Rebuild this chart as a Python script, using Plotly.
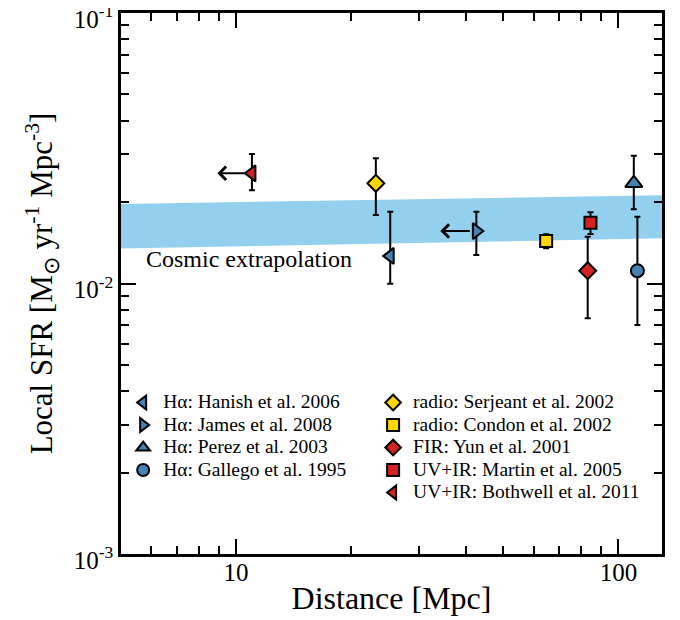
import numpy as np
import plotly.graph_objects as go

# ---------------- data ----------------
names = [
    "Hα: Hanish et al. 2006",
    "Hα: James et al. 2008",
    "Hα: Perez et al. 2003",
    "Hα: Gallego et al. 1995",
    "radio: Serjeant et al. 2002",
    "radio: Condon et al. 2002",
    "FIR: Yun et al. 2001",
    "UV+IR: Martin et al. 2005",
    "UV+IR: Bothwell et al. 2011",
]
distance = [25.3, 42.5, 109.7, 112.1, 23.2, 64.7, 83.1, 84.5, 11.0]
sfr      = [0.01264, 0.01563, 0.0235, 0.01115, 0.02347, 0.01435, 0.01115, 0.01678, 0.02555]
sfr_hi   = [0.01842, 0.01842, 0.0297, 0.01766, 0.02904, 0.0152, 0.0149, 0.01833, 0.0301]
sfr_lo   = [0.00997, 0.01274, 0.0188, 0.00702, 0.0179, 0.01349, 0.00744, 0.01524, 0.0221]
symbols  = ["triangle-left", "triangle-right", "triangle-up", "circle",
            "diamond", "square", "diamond", "square", "triangle-left"]
colors   = ["#4682B4", "#4682B4", "#4682B4", "#4682B4",
            "#FFD700", "#FFD700", "#D42222", "#D42222", "#D42222"]
sizes    = [14, 14, 15, 13, 13, 12, 13, 12, 14]
legend_group = ["legend", "legend", "legend", "legend",
                "legend2", "legend2", "legend2", "legend2", "legend2"]

# upper-limit arrows (index of point, distance of arrow tip)
arrow_idx = [8, 1]
arrow_to = [8.93, 34.2]

# cosmic extrapolation band
band_x = [5, 130]
band_low = [0.01347, 0.01469]
band_high = [0.01968, 0.0212]
band_label = "Cosmic extrapolation"

x_ticks = [10, 100]
x_ticktext = ["10", "100"]
y_ticks = [0.001, 0.01, 0.1]
y_ticktext = ["10<sup>-3</sup>", "10<sup>-2</sup>", "10<sup>-1</sup>"]

FONT = "Liberation Serif, Times New Roman, serif"

fig = go.Figure()

# band
fig.add_trace(go.Scatter(x=band_x, y=band_low, mode="lines", line=dict(width=0),
                         showlegend=False, hoverinfo="skip"))
fig.add_trace(go.Scatter(x=band_x, y=band_high, mode="lines", line=dict(width=0),
                         fill="tonexty", fillcolor="#93d0ed",
                         showlegend=False, hoverinfo="skip"))

for i in range(len(names)):
    fig.add_trace(go.Scatter(
        x=[distance[i]], y=[sfr[i]], mode="markers",
        name='<span style="font-size:19.5px">' + names[i] + "</span>",
        legend=legend_group[i],
        marker=dict(symbol=symbols[i], color=colors[i], size=sizes[i],
                    line=dict(color="black", width=2)),
        error_y=dict(type="data", symmetric=False,
                     array=[sfr_hi[i] - sfr[i]], arrayminus=[sfr[i] - sfr_lo[i]],
                     color="black", thickness=2, width=3),
    ))

for k, i in enumerate(arrow_idx):
    fig.add_annotation(x=np.log10(arrow_to[k]), y=np.log10(sfr[i]),
                       ax=np.log10(distance[i]), ay=np.log10(sfr[i]),
                       xref="x", yref="y", axref="x", ayref="y",
                       text="", showarrow=True, arrowhead=4, arrowsize=1.3,
                       arrowwidth=2, arrowcolor="black", startstandoff=5)

fig.add_annotation(x=np.log10(5.75), y=np.log10(0.01235), xref="x", yref="y",
                   text=band_label, showarrow=False, xanchor="left",
                   font=dict(family=FONT, size=24, color="black"))

axis_common = dict(
    type="log", showline=True, linewidth=2.5, linecolor="black", mirror="ticks",
    ticks="inside", ticklen=15, tickwidth=2, tickcolor="black",
    showgrid=False, zeroline=False, automargin=False,
    minor=dict(ticks="inside", ticklen=8, tickwidth=2, tickcolor="black",
               dtick="D1", showgrid=False),
    tickfont=dict(family=FONT, size=25, color="black"),
)

fig.update_xaxes(**axis_common, range=[np.log10(5), np.log10(130)],
                 tickmode="array", tickvals=x_ticks, ticktext=x_ticktext,
                 ticklabelstandoff=-6,
                 title=dict(text="Distance [Mpc]", font=dict(family=FONT, size=32, color="black"),
                            standoff=2))
fig.update_yaxes(**axis_common, range=[-3.0002, -0.9998],
                 tickmode="array", tickvals=y_ticks, ticktext=y_ticktext,
                 ticklabeloverflow="allow", ticklabelshift=6,
                 title=dict(text="Local SFR [M<sub>⊙</sub> yr<sup>-1</sup> Mpc<sup>-3</sup>]",
                            font=dict(family=FONT, size=31, color="black"), standoff=12))

legend_common = dict(font=dict(family=FONT, size=15, color="black"),
                     bgcolor="rgba(0,0,0,0)", itemsizing="constant",
                     traceorder="normal",
                     tracegroupgap=0, yanchor="top", xanchor="left")
fig.update_layout(
    width=672, height=612,
    margin=dict(l=113, r=18, t=5, b=66),
    paper_bgcolor="white", plot_bgcolor="white",
    legend=dict(**legend_common, x=0.004, y=0.31),
    legend2=dict(**legend_common, x=0.466, y=0.31),
)

fig.write_html("out.html")
